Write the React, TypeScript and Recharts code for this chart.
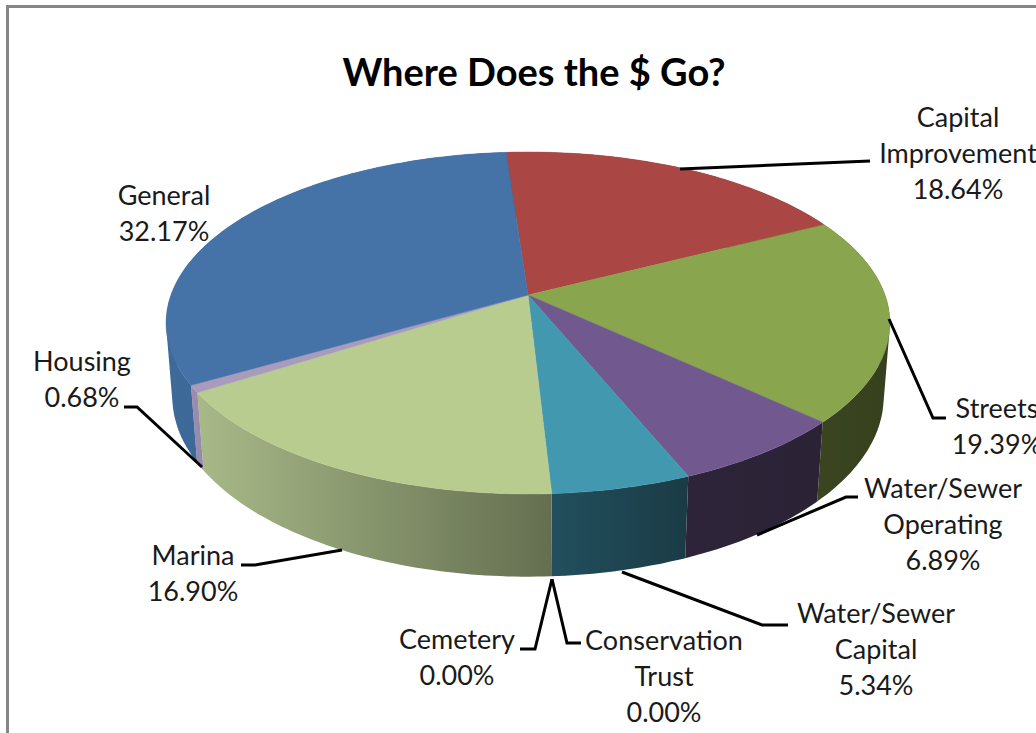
import {Pie, PieChart} from 'recharts';

const fundNames = [
  'Capital Improvement',
  'Streets',
  'Water/Sewer Operating',
  'Water/Sewer Capital',
  'Conservation Trust',
  'Cemetery',
  'Marina',
  'Housing',
  'General',
];
const fundShares = [18.64, 19.39, 6.89, 5.34, 0, 0, 16.9, 0.68, 32.17];
const topColors = ['#AA4643', '#89A54E', '#71588F', '#4198AF', '#4198AF', '#B9CC8F', '#B9CC8F', '#A99BBD', '#4572A7'];
const wallLeftColors = ['#7A3230', '#3A4520', '#2E2439', '#224F5E', '#224F5E', '#A8B988', '#A8B988', '#9B8DB0', '#3E6A99'];
const wallRightColors = ['#5A2523', '#36401E', '#2B2236', '#1A3B45', '#1A3B45', '#646F50', '#646F50', '#9788AC', '#355F8C'];

const tableData = fundNames.map((name, i) => ({name, value: fundShares[i], fill: topColors[i]}));

// label text is centred on x, first baseline at y; leader runs from the pie edge to the text
const labelLayout = [
  {lines: ['Capital', 'Improvement'], x: 958, y: 127, leader: [[680, 169], [870, 161]]},
  {lines: ['Streets'], x: 997, y: 418, leader: [[889, 319], [933, 418], [946, 418]]},
  {lines: ['Water/Sewer', 'Operating'], x: 943, y: 498, leader: [[757, 535], [846, 497], [858, 497]]},
  {lines: ['Water/Sewer', 'Capital'], x: 876, y: 623, leader: [[622, 572], [762, 625], [788, 625]]},
  {lines: ['Conservation', 'Trust'], x: 664, y: 650, leader: [[552, 579], [567, 643], [581, 643]]},
  {lines: ['Cemetery'], x: 457, y: 649, leader: [[552, 579], [535, 649], [520, 649]]},
  {lines: ['Marina'], x: 193, y: 565, leader: [[342, 550], [255, 565], [241, 565]]},
  {lines: ['Housing'], x: 82, y: 371, leader: [[202, 467], [137, 407], [124, 407]]},
  {lines: ['General'], x: 164, y: 205, leader: []},
];

const FONT = 'Lato, "Open Sans", sans-serif';
const LINE_HEIGHT = 36;

// perspective of the tilted disc
const SQUASH = 0.466;
const TILT = 0.1637;
const DEPTH = 74;
const DEPTH_SHRINK = 0.017;

function project(cx: number, cy: number, r: number, deg: number, lower: boolean) {
  const rad = (deg * Math.PI) / 180;
  const px = Math.cos(rad);
  const py = -Math.sin(rad);
  const w = 1 - TILT * py + (lower ? DEPTH_SHRINK : 0);
  return [cx + (r * px) / w, cy + (r * SQUASH * py + (lower ? DEPTH : 0)) / w];
}

function rim(p: any, lower: boolean) {
  const steps = Math.max(2, Math.ceil(Math.abs(p.startAngle - p.endAngle)));
  const pts: number[][] = [];
  for (let i = 0; i <= steps; i++) {
    const deg = p.startAngle + ((p.endAngle - p.startAngle) * i) / steps;
    pts.push(project(p.cx, p.cy, p.outerRadius, deg, lower));
  }
  return pts;
}

const toPath = (pts: number[][]) => pts.map((q, i) => `${i ? 'L' : 'M'}${q[0].toFixed(1)} ${q[1].toFixed(1)}`).join(' ');

function signedArea(pts: number[][]) {
  return pts.reduce((sum, q, i) => {
    const next = pts[(i + 1) % pts.length];
    return sum + q[0] * next[1] - next[0] * q[1];
  }, 0);
}

// one quad per step, all wound the same way, so the fold at the silhouette does not cancel out
function wallPath(p: any) {
  const upper = rim(p, false);
  const lower = rim(p, true);
  const parts: string[] = [];
  for (let i = 0; i < upper.length - 1; i++) {
    const quad = [upper[i], upper[i + 1], lower[i + 1], lower[i]];
    if (signedArea(quad) < 0) quad.reverse();
    parts.push(`${toPath(quad)} Z`);
  }
  return parts.join(' ');
}

function TopFace(props: any) {
  if (props.startAngle === props.endAngle) return null;
  const d = `M${props.cx} ${props.cy} ${toPath(rim(props, false)).replace('M', 'L')} Z`;
  return <path d={d} fill={props.fill} stroke={props.fill} strokeWidth={0.5} />;
}

function WallFace(props: any) {
  if (props.startAngle === props.endAngle) return null;
  const i = fundNames.indexOf(props.name);
  const id = `wall-${i}`;
  return (
    <g>
      <defs>
        <linearGradient id={id} x1="0" y1="0" x2="1" y2="0">
          <stop offset="0" stopColor={wallLeftColors[i]} />
          <stop offset="1" stopColor={wallRightColors[i]} />
        </linearGradient>
      </defs>
      <path d={wallPath(props)} fill={`url(#${id})`} />
    </g>
  );
}

function FundLabel(props: any) {
  const i = fundNames.indexOf(props.name);
  const item = labelLayout[i];
  const lines = [...item.lines, `${fundShares[i].toFixed(2)}%`];
  return (
    <g>
      {item.leader.length > 0 && (
        <polyline
          points={item.leader.map(q => q.join(',')).join(' ')}
          fill="none"
          stroke="#000"
          strokeWidth={3}
          strokeLinejoin="miter"
        />
      )}
      <text x={item.x} y={item.y} textAnchor="middle" fontFamily={FONT} fontSize={27} fill="#1a1a1a">
        {lines.map((line, n) => (
          <tspan key={n} x={item.x} y={item.y + n * LINE_HEIGHT}>
            {line}
          </tspan>
        ))}
      </text>
    </g>
  );
}

export default function App() {
  return (
    <div style={{position: 'absolute', left: 0, top: 0, width: 1036, height: 733, overflow: 'hidden', background: '#fff'}}>
      <div style={{position: 'absolute', left: 6, top: 5, right: 0, bottom: 0, borderLeft: '3px solid #868686', borderTop: '3px solid #868686'}} />
      <div style={{position: 'absolute', left: 0, top: 0}}>
        <PieChart width={1036} height={733} margin={{top: 0, right: 0, bottom: 0, left: 0}}>
          <text x={534} y={86} textAnchor="middle" fontFamily={FONT} fontWeight={700} fontSize={38} fill="#000">
            Where Does the $ Go?
          </text>
          <Pie
            data={tableData}
            dataKey="value"
            nameKey="name"
            cx={528}
            cy={295}
            outerRadius={357}
            startAngle={94.1}
            endAngle={-265.9}
            stroke="none"
            isAnimationActive={false}
            shape={WallFace}
          />
          <Pie
            data={tableData}
            dataKey="value"
            nameKey="name"
            cx={528}
            cy={295}
            outerRadius={357}
            startAngle={94.1}
            endAngle={-265.9}
            stroke="none"
            isAnimationActive={false}
            shape={TopFace}
            label={FundLabel}
            labelLine={false}
          />
        </PieChart>
      </div>
    </div>
  );
}
